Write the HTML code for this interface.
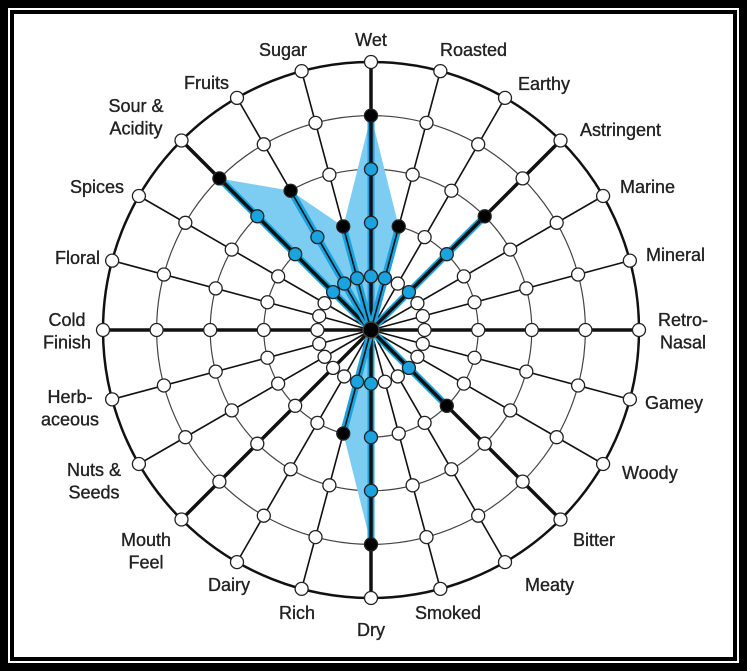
<!DOCTYPE html>
<html><head><meta charset="utf-8"><style>
html,body{margin:0;padding:0;background:#000;}
svg{display:block;}
</style></head><body>
<svg width="747" height="671" viewBox="0 0 747 671" xmlns="http://www.w3.org/2000/svg">
<rect x="0" y="0" width="747" height="671" fill="#000"/>
<rect x="8" y="8" width="731" height="655" fill="#fff"/>
<rect x="10" y="10" width="727" height="651" fill="#000"/>
<rect x="14" y="14" width="719" height="643" fill="#fff"/>
<g id="grid"></g>
<g id="series"></g>
<g id="nodes"></g>
<g id="labels" font-family="Liberation Sans, sans-serif" font-size="18" fill="#222" stroke="#222" stroke-width="0.35"></g>
</svg>
<script>
const categories = ["Wet","Roasted","Earthy","Astringent","Marine","Mineral","Retro-Nasal","Gamey","Woody","Bitter","Meaty","Smoked","Dry","Rich","Dairy","Mouth Feel","Nuts & Seeds","Herbaceous","Cold Finish","Floral","Spices","Sour & Acidity","Fruits","Sugar"];
const values = [4,2,0,3,0,0,0,0,0,2,0,0,4,2,0,0,0,0,0,0,0,4,3,2];
const levels = [1,2,3,4,5];
const labelLines = [["Wet"],["Roasted"],["Earthy"],["Astringent"],["Marine"],["Mineral"],["Retro-","Nasal"],["Gamey"],["Woody"],["Bitter"],["Meaty"],["Smoked"],["Dry"],["Rich"],["Dairy"],["Mouth","Feel"],["Nuts &","Seeds"],["Herb-","aceous"],["Cold","Finish"],["Floral"],["Spices"],["Sour &","Acidity"],["Fruits"],["Sugar"]];

const NS="http://www.w3.org/2000/svg";
const cx=371, cy=330, R=268, maxLevel=5;
function rScale(v){return v/maxLevel*R;}
function angle(i){return i/categories.length*2*Math.PI;}
function pt(i,v){const a=angle(i),r=rScale(v);return [cx+r*Math.sin(a), cy-r*Math.cos(a)];}
function mk(tag,attrs,parent){const e=document.createElementNS(NS,tag);for(const k in attrs)e.setAttribute(k,attrs[k]);parent.appendChild(e);return e;}

const grid=document.getElementById('grid');
levels.forEach(l=>{
  const c=mk('circle',{cx:cx,cy:cy,r:rScale(l),fill:'none',stroke:l===maxLevel?'#111':'#444','stroke-width':l===maxLevel?2.5:1.2},grid);
  
  
});
categories.forEach((c,i)=>{
  const p=pt(i,maxLevel);
  const thick=i%3===0;
  const ln=mk('line',{x1:cx,y1:cy,x2:p[0],y2:p[1],stroke:'#111','stroke-width':thick?3.5:1.6},grid);
  
  
});

const series=document.getElementById('series');
const polyPts=values.map((v,i)=>pt(i,v).join(',')).join(' ');
const poly=mk('polygon',{points:polyPts,fill:'#7dcdf2',stroke:'none'},series);


values.forEach((v,i)=>{
  if(v<=0)return;
  const p=pt(i,v);
  const ln=mk('line',{x1:cx,y1:cy,x2:p[0],y2:p[1],stroke:'#1aa3df','stroke-width':7},series);
  
  
  const thick=i%3===0;
  const ax=mk('line',{x1:cx,y1:cy,x2:p[0],y2:p[1],stroke:'#111','stroke-width':thick?3.5:1.6},series);
  
  
});

const nodes=document.getElementById('nodes');
categories.forEach((c,i)=>{
  levels.forEach(l=>{
    const p=pt(i,l);
    let fill='#fff';
    if(values[i]===l)fill='#000';else if(l<values[i])fill='#1aa3df';
    const n=mk('circle',{cx:p[0],cy:p[1],r:6.5,fill:fill,stroke:'#222','stroke-width':1.3},nodes);
    
    
  });
});
const ctr=mk('circle',{cx:cx,cy:cy,r:8,fill:'#000',stroke:'#444','stroke-width':1.5},nodes);



const labelPos=[[371,40,'middle'],[440,50,'start'],[518,84,'start'],[580,130,'start'],[620,187,'start'],[646,255,'start'],[683,320,'middle'],[645,403,'start'],[622,473,'start'],[573,540,'start'],[525,585,'start'],[415,613,'start'],[371,630,'middle'],[315,613,'end'],[250,585,'end'],[146,540,'middle'],[94,470,'middle'],[70,397,'middle'],[67,320,'middle'],[100,258,'end'],[124,187,'end'],[136,106,'middle'],[229,83,'end'],[307,50,'end']];
const labels=document.getElementById('labels');
categories.forEach((c,i)=>{
  const [x,y,anc]=labelPos[i];
  const t=mk('text',{x:x,y:y,'text-anchor':anc,'dominant-baseline':'central'},labels);
  
  
  labelLines[i].forEach((s,k)=>{
    const ts=mk('tspan',{x:x,dy:k===0?0:22.5},t);
    ts.textContent=s;
  });
});
</script>
</body></html>
